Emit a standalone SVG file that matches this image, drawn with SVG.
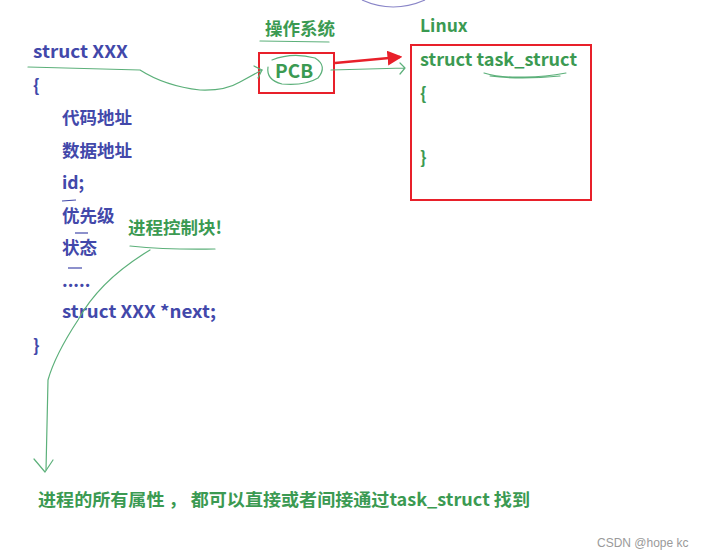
<svg xmlns="http://www.w3.org/2000/svg" width="711" height="555" viewBox="0 0 711 555">
<style>
.b{font-family:"Noto Sans CJK SC","Liberation Sans",sans-serif;font-weight:bold;font-size:17.5px;fill:#4248aa}
.g{font-family:"Noto Sans CJK SC","Liberation Sans",sans-serif;font-weight:bold;font-size:17.5px;fill:#3b9a52}
.ln{fill:none;stroke:#5cb07a;stroke-width:1.2;stroke-linecap:round;stroke-linejoin:round}
.bl{fill:none;stroke:#4248aa;stroke-width:1.2}
.rb{fill:none;stroke:#e8202a;stroke-width:2}
</style>
<defs>
<marker id="ra" markerWidth="6" markerHeight="6" refX="5" refY="3" orient="auto" markerUnits="strokeWidth"><path d="M0,0 L6,3 L0,6 z" fill="#e8202a"/></marker>
</defs>
<rect width="711" height="555" fill="#fff"/>
<path d="M362,0 Q393,14 425,0" fill="none" stroke="#8a86c8" stroke-width="1.2"/>
<g id="struct-xxx">
<text class="b" x="33" y="58" textLength="95" lengthAdjust="spacingAndGlyphs">struct XXX</text>
<text class="b" x="33" y="92">{</text>
<text class="b" x="62" y="124">代码地址</text>
<text class="b" x="62" y="157">数据地址</text>
<text class="b" x="62" y="189">id;</text>
<path class="bl" d="M62,201 L76,200"/>
<text class="b" x="62" y="222">优先级</text>
<path class="bl" d="M75,233 L88,233"/>
<text class="b" x="62" y="254">状态</text>
<path class="bl" d="M68,268 L82,268"/>
<text class="b" x="62" y="287">.....</text>
<text class="b" x="62" y="318" textLength="154" lengthAdjust="spacingAndGlyphs">struct XXX *next;</text>
<text class="b" x="33" y="352">}</text>
</g>
<g id="os">
<text class="g" x="265" y="35">操作系统</text>
<path class="ln" d="M260,41 L329,42"/>
</g>
<g id="pcb">
<rect class="rb" x="259" y="53" width="75" height="40"/>
<text class="g" x="275" y="78" style="font-size:19px">PCB</text>
<path class="ln" d="M272,60 Q292,52 315,58 Q328,66 318,78 Q305,86 282,84 Q266,80 268,67"/>
</g>
<g id="linux">
<text class="g" x="420" y="32">Linux</text>
<rect class="rb" x="411" y="45" width="180" height="155"/>
<text class="g" x="420" y="66" textLength="157" lengthAdjust="spacingAndGlyphs">struct task_struct</text>
<path class="ln" d="M484,73 Q500,78 525,77 Q545,77 566,73 M490,76 Q520,80 560,76"/>
<text class="g" x="420" y="100">{</text>
<text class="g" x="420" y="164">}</text>
</g>
<g id="pcb-label">
<text class="g" x="128" y="234">进程控制块!</text>
<path class="ln" d="M130,246 Q170,250 215,249"/>
</g>
<g id="bottom">
<text class="g" x="38" y="506" textLength="492" lengthAdjust="spacingAndGlyphs">进程的所有属性 ， 都可以直接或者间接通过task_struct 找到</text>
</g>
<text x="597" y="547" font-family="'Liberation Sans',sans-serif" font-size="12" fill="#9a9a9a">CSDN @hope kc</text>
<g id="connectors">
<path class="ln" d="M28,67 L140,70 Q165,86 200,90 Q225,91 240,82 L262,70"/>
<path class="ln" d="M254,66 L262,70 L258,78"/>
<path d="M335,63 L400,57" stroke="#e8202a" stroke-width="2.5" fill="none" marker-end="url(#ra)"/>
<path class="ln" d="M331,70 L405,68 M400,63 L405,68 L400,74"/>
<path class="ln" d="M150,250 Q100,280 78,320 Q55,355 48,380 L46,470"/>
<path class="ln" d="M34,459 L45,472 L53,460"/>
</g>
</svg>
